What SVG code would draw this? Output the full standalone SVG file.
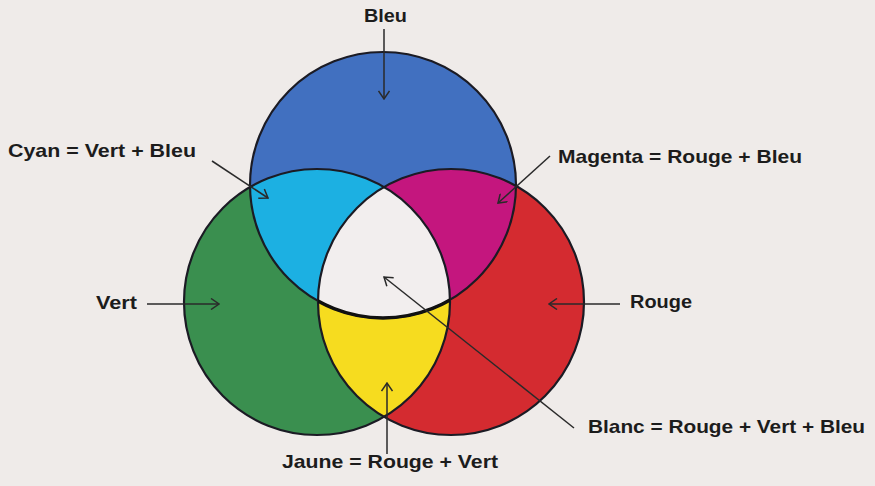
<svg xmlns="http://www.w3.org/2000/svg" width="875" height="486" viewBox="0 0 875 486">
<style>
.lbl{font-family:"Liberation Sans",Arial,sans-serif;font-weight:bold;font-size:19px;fill:#1c1c1c}
.edge{stroke:#1b1b24;stroke-width:2.2;fill:none}
.arr{stroke:#2a2a2a;stroke-width:1.5;fill:none;marker-end:url(#chev)}
</style>
<defs>
<marker id="chev" viewBox="0 0 10 12" refX="9" refY="6" markerWidth="10" markerHeight="12" markerUnits="userSpaceOnUse" orient="auto">
<path d="M1,0.5 L9,6 L1,11.5" fill="none" stroke="#2a2a2a" stroke-width="1.5"/>
</marker>
<clipPath id="cBlue"><circle cx="383" cy="185" r="133"/></clipPath>
<clipPath id="cGreen"><circle cx="317" cy="302" r="133"/></clipPath>
<clipPath id="cRed"><circle cx="451" cy="302" r="133"/></clipPath>
</defs>
<rect width="875" height="486" fill="#efebe9"/>
<g id="bleu"><circle cx="383" cy="185" r="133" fill="#4170c0"/></g>
<g id="vert"><circle cx="317" cy="302" r="133" fill="#3a8f4f"/></g>
<g id="rouge"><circle cx="451" cy="302" r="133" fill="#d42b30"/></g>
<g id="cyan" clip-path="url(#cBlue)"><circle cx="317" cy="302" r="133" fill="#1cb0e2"/></g>
<g id="magenta" clip-path="url(#cBlue)"><circle cx="451" cy="302" r="133" fill="#c4167e"/></g>
<g id="jaune" clip-path="url(#cGreen)"><circle cx="451" cy="302" r="133" fill="#f6dc1f"/></g>
<g id="blanc" clip-path="url(#cBlue)"><g clip-path="url(#cGreen)"><circle cx="451" cy="302" r="133" fill="#f2eeee"/></g></g>
<g id="outlines">
<circle class="edge" cx="383" cy="185" r="133"/>
<circle class="edge" cx="317" cy="302" r="133"/>
<circle class="edge" cx="451" cy="302" r="133"/>
<g clip-path="url(#cGreen)"><g clip-path="url(#cRed)"><circle cx="383" cy="185" r="133" fill="none" stroke="#111" stroke-width="3.4"/></g></g>
</g>
<g id="connectors">
<line class="arr" x1="384" y1="29" x2="384" y2="99"/>
<line class="arr" x1="212" y1="161" x2="268" y2="198"/>
<line class="arr" x1="550" y1="156" x2="498" y2="203"/>
<line class="arr" x1="147" y1="304" x2="219" y2="304"/>
<line class="arr" x1="620" y1="304" x2="549" y2="304"/>
<line class="arr" x1="574" y1="428" x2="384" y2="277"/>
<line class="arr" x1="387" y1="454" x2="387" y2="383"/>
</g>
<g id="labels">
<text class="lbl" x="364" y="22" textLength="43" lengthAdjust="spacingAndGlyphs">Bleu</text>
<text class="lbl" x="8" y="157" textLength="188" lengthAdjust="spacingAndGlyphs">Cyan = Vert + Bleu</text>
<text class="lbl" x="558" y="163" textLength="244" lengthAdjust="spacingAndGlyphs">Magenta = Rouge + Bleu</text>
<text class="lbl" x="96" y="309" textLength="41" lengthAdjust="spacingAndGlyphs">Vert</text>
<text class="lbl" x="630" y="308" textLength="62" lengthAdjust="spacingAndGlyphs">Rouge</text>
<text class="lbl" x="588" y="433" textLength="277" lengthAdjust="spacingAndGlyphs">Blanc = Rouge + Vert + Bleu</text>
<text class="lbl" x="282" y="468" textLength="216" lengthAdjust="spacingAndGlyphs">Jaune = Rouge + Vert</text>
</g>
</svg>
